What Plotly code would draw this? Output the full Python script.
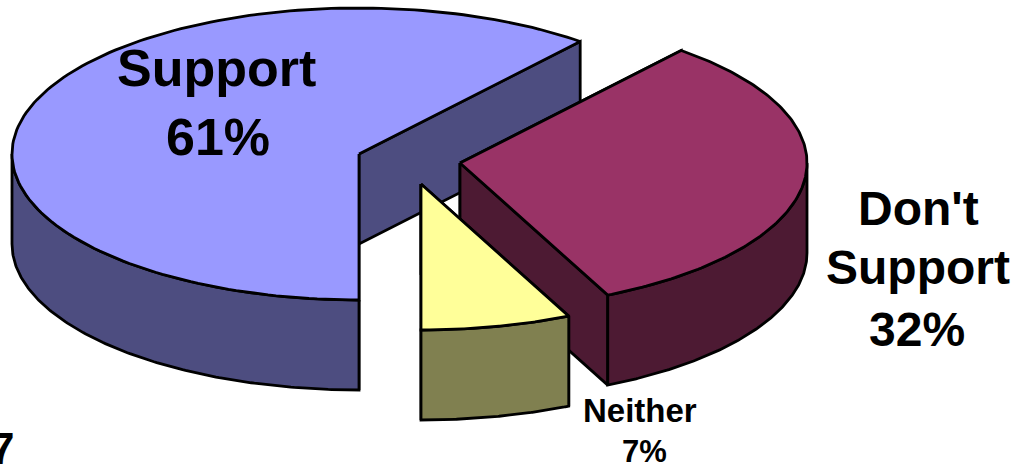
"""
Exploded 3D-look pie of support shares, drawn as filled scatter polygons
"""
import numpy as np
import plotly.graph_objects as go

categories = ["Support", "Don't Support", "Neither"]
shares = [61, 32, 7]

# look of the pie
TOP_COLORS = ['#9999FF', '#993366', '#FFFF99']
SIDE_COLORS = ['#4D4D80', '#4D1A33', '#808050']
CENTERS = [(359, 154), (460, 163), (421, 184)]
RX, RY, DEPTH = 347, 146, 90
START_ANGLE = 180  # degrees clockwise from 12 o'clock


def rim(center, a0, a1):
    """Points on the ellipse between two clockwise angles."""
    angles = np.radians(np.linspace(a0, a1, 160))
    return center[0] + RX * np.sin(angles), center[1] - RY * np.cos(angles)


def add_face(fig, xs, ys, color):
    fig.add_trace(go.Scatter(
        x=list(xs) + [xs[0]],
        y=list(ys) + [ys[0]],
        mode='lines',
        fill='toself',
        fillcolor=color,
        line=dict(color='black', width=2.8),
        hoverinfo='skip',
        showlegend=False
    ))


fig = go.Figure()

angle = START_ANGLE
for center, share, top, side in zip(CENTERS, shares, TOP_COLORS, SIDE_COLORS):
    a0, a1 = angle, angle + share * 3.6
    angle = a1 % 360

    # radial walls
    for a in (a0, a1):
        x, y = rim(center, a, a)
        add_face(fig,
                 [center[0], x[0], x[0], center[0]],
                 [center[1], y[0], y[0] + DEPTH, center[1] + DEPTH],
                 side)

    # outer wall, only the part facing the viewer
    f0, f1 = max(a0, 90), min(a1, 270)
    if f0 < f1:
        x, y = rim(center, f0, f1)
        add_face(fig,
                 np.concatenate([x, x[::-1]]),
                 np.concatenate([y, y[::-1] + DEPTH]),
                 side)

    # top face
    x, y = rim(center, a0, a1)
    add_face(fig,
             np.concatenate([[center[0]], x]),
             np.concatenate([[center[1]], y]),
             top)

labels = [
    ("Support", 216, 68, 52),
    (f"{shares[0]}%", 218, 137, 52),
    ("Don't", 918, 208, 48),
    ("Support", 918, 267, 48),
    (f"{shares[1]}%", 917, 329, 48),
    ("Neither", 640, 410, 33),
    (f"{shares[2]}%", 644, 451, 31),
]
for text, x, y, size in labels:
    fig.add_annotation(x=x, y=y, text=f"<b>{text}</b>", showarrow=False,
                       font=dict(family='Liberation Sans', size=size, color='black'))

# stray digit cut off by the left edge
fig.add_annotation(x=16, y=448, text="<b>7</b>", showarrow=False, xanchor='right',
                   font=dict(family='Liberation Sans', size=44, color='black'))

fig.update_layout(
    width=1014,
    height=468,
    margin=dict(l=0, r=0, t=0, b=0),
    paper_bgcolor='white',
    plot_bgcolor='white',
    xaxis=dict(range=[0, 1014], visible=False, fixedrange=True),
    yaxis=dict(range=[468, 0], visible=False, fixedrange=True),
)

fig.write_html("out.html", config=dict(displayModeBar=False),
               post_script="document.body.style.margin='0';")
